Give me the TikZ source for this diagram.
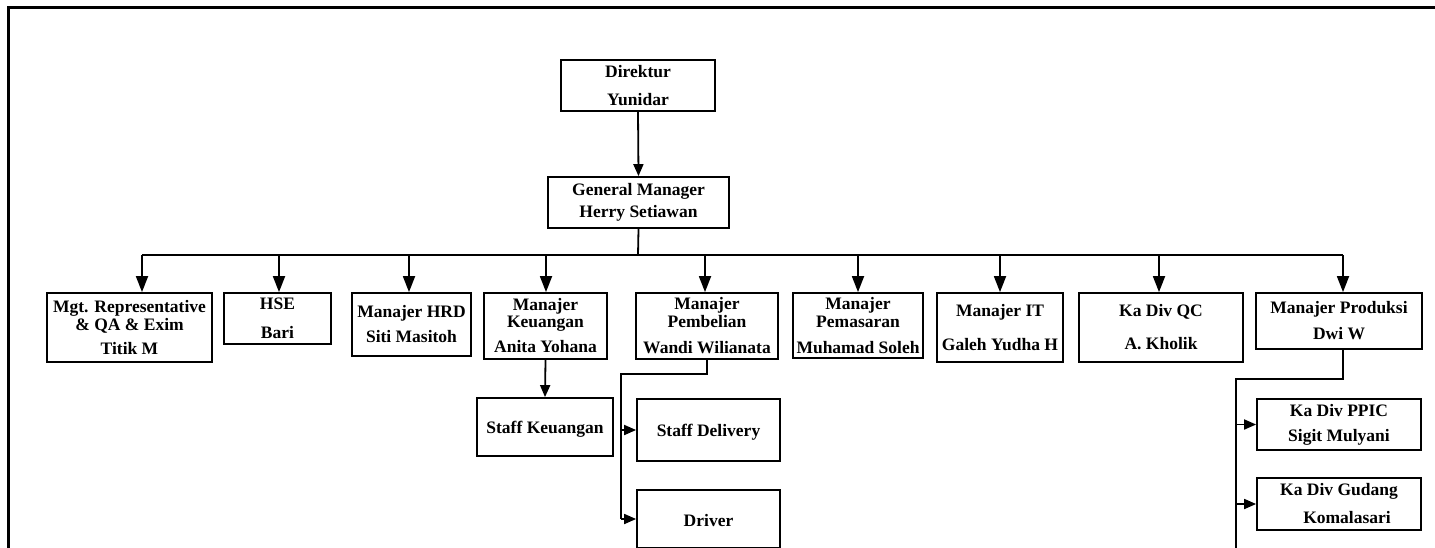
\documentclass[tikz,border=0pt]{standalone}
\usepackage{fontspec}
\setmainfont{Liberation Serif}
\usetikzlibrary{arrows.meta}
\begin{document}
\begin{tikzpicture}[x=1pt,y=-1pt,
  box/.style={draw,line width=1.8pt,rectangle,inner sep=0pt,align=center,
    font=\bfseries\fontsize{17.5}{18}\selectfont,
    execute at begin node={\rule{0pt}{16pt}}},
  bx/.style 2 args={box,minimum width=#1pt,minimum height=#2pt},
  conn/.style={line width=1.8pt},
  arr/.style={conn,-{Triangle[length=16pt,width=12pt]}},
  sarr/.style={conn,-{Triangle[length=12pt,width=10pt]}}]
\useasboundingbox (0,0) rectangle (1435,547);
\clip (0,0) rectangle (1435,547);
\draw[line width=3pt] (8,560) -- (8,7) -- (1440,7);

\node[bx={154}{51}] (dir) at (638,85.5) {Direktur\\[10pt]Yunidar};
\node[bx={181}{51}] (gm) at (638.5,202.5) {General Manager\\[4pt]Herry Setiawan};

\node[bx={165}{69}] (mgt) at (129.5,327.5) {Mgt. Representative\\[0pt]\& QA \& Exim\\[6pt]Titik M};
\node[bx={107}{51}] (hse) at (277.5,318.5) {HSE\\[11pt]Bari};
\node[bx={119}{63}] (hrd) at (411.5,324.5) {Manajer HRD\\[7pt]Siti Masitoh};
\node[bx={123}{66}] (keu) at (545.5,326) {Manajer\\[-1pt]Keuangan\\[7pt]Anita Yohana};
\node[bx={142}{66}] (pem) at (707,326) {Manajer\\[0pt]Pembelian\\[8pt]Wandi Wilianata};
\node[bx={130}{65}] (pms) at (858,325.5) {Manajer\\[0pt]Pemasaran\\[8pt]Muhamad Soleh};
\node[bx={126}{69}] (it) at (1000,327.5) {Manajer IT\\[16pt]Galeh Yudha H};
\node[bx={164}{69}] (qc) at (1161,327.5) {Ka Div QC\\[15pt]A. Kholik};
\node[bx={166}{56}] (prod) at (1339,321) {Manajer Produksi\\[8pt]Dwi W};

\node[bx={136}{58}] (sk) at (545,427) {Staff Keuangan};
\node[bx={143}{62}] (sd) at (708.5,430) {Staff Delivery};
\node[bx={143}{58}] (drv) at (708.5,519) {Driver};
\node[bx={164}{51}] (ppic) at (1339,424.5) {Ka Div PPIC\\[7pt]Sigit Mulyani};
\node[bx={164}{52}] (gud) at (1339,504) {Ka Div Gudang\\[10pt]\hspace*{16pt}Komalasari};

\draw[sarr] (dir.south) -- (gm.north);
\coordinate (bus) at (638,255);
\draw[conn] (gm.south) -- (bus);
\foreach \x/\n in {142/mgt,279/hse,409/hrd,546/keu,705/pem,858/pms,1000/it,1159/qc,1343/prod}{
  \coordinate (t\n) at (\x,255);
  \draw[arr] (t\n) -- (t\n |- \n.north);
}
\draw[conn] (tmgt) -- (tprod);

\draw[sarr] (keu.south) -- (sk.north);

\coordinate (pemL) at (621,374);
\draw[conn] (pem.south) |- (pemL) -- (pemL |- drv.west);
\draw[sarr] (pemL |- sd.west) -- (sd.west);
\draw[sarr] (pemL |- drv.west) -- (drv.west);

\coordinate (prodL) at (1236,379);
\coordinate (prodEnd) at (1236,560);
\draw[conn] (tprod |- prod.south) |- (prodL) -- (prodEnd);
\draw[sarr] (prodL |- ppic.west) -- (ppic.west);
\draw[sarr] (prodL |- gud.west) -- (gud.west);
\end{tikzpicture}
\end{document}
